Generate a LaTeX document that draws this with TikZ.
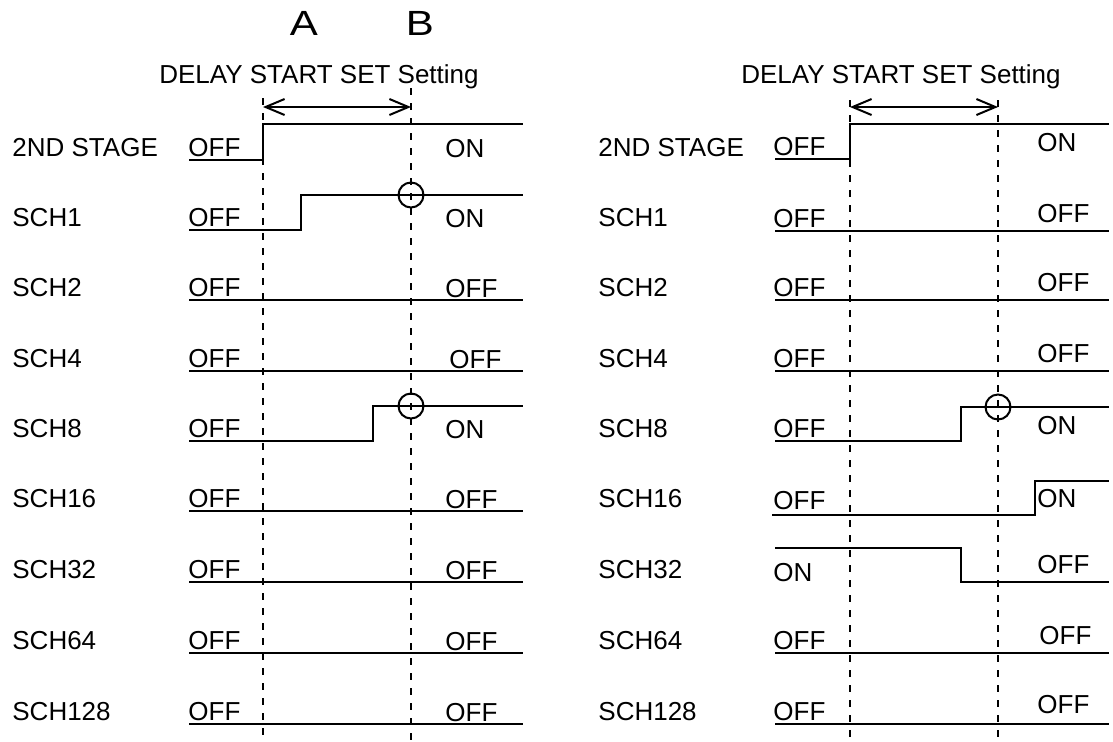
\documentclass[tikz,border=0pt]{standalone}
\usepackage{fontspec}
\setmainfont{Liberation Sans}
\usetikzlibrary{arrows.meta}
\tikzset{
  sig/.style={line width=1.2pt, line join=miter},
  guide/.style={line width=1.2pt, dash pattern=on 3.5pt off 4pt},
  setarrow/.style={{Straight Barb[length=9.5pt,width=8pt]}-{Straight Barb[length=9.5pt,width=8pt]}, line width=1pt},
  lab/.style={anchor=base west, inner sep=0pt, font=\fontsize{13pt}{15pt}\selectfont},
  ttl/.style={anchor=base, inner sep=0pt, font=\fontsize{13pt}{15pt}\selectfont},
  pt/.style={anchor=base, inner sep=0pt, font=\fontsize{17.5pt}{20pt}\selectfont},
  probe/.style={circle, draw, line width=1pt, minimum size=12.5pt, inner sep=0pt},
}

\begin{document}
\begin{tikzpicture}[x=0.5pt, y=-0.5pt]
    \useasboundingbox (0,0) rectangle (1113,741);
    % points A and B
    \node[pt, xscale=1.2] (ptA) at (304,35) {A};
    \node[pt, xscale=1.2] (ptB) at (420,35) {B};
    % left panel: guides and setting span
    \node[ttl] (ltitle) at (319,83) {DELAY START SET Setting};
    \coordinate (lAt) at (263,98);  \coordinate (lAb) at (263,741);
    \coordinate (lBt) at (411,88);  \coordinate (lBb) at (411,741);
    \coordinate (lAs) at (263,107); \coordinate (lBs) at (411,107);
    \draw[guide] (lAt) -- (lAb);
    \draw[guide] (lBt) -- (lBb);
    \draw[setarrow] (lAs) -- (lBs);
    % left panel: row names
    \node[lab] (l2nd) at (12,156.5) {2ND STAGE};
    \node[lab] (l1) at (12,226.5) {SCH1};
    \node[lab] (l2) at (12,296.5) {SCH2};
    \node[lab] (l4) at (12,367.5) {SCH4};
    \node[lab] (l8) at (12,437.5) {SCH8};
    \node[lab] (l16) at (12,507.5) {SCH16};
    \node[lab] (l32) at (12,578.5) {SCH32};
    \node[lab] (l64) at (12,649.5) {SCH64};
    \node[lab] (l128) at (12,720.5) {SCH128};
    % left panel: signals
    \draw[sig] (189,160) -- (263,160) -- (263,124) -- (523,124);
    \draw[sig] (189,230) -- (301,230) -- (301,195) -- (523,195);
    \draw[sig] (189,300) -- (523,300);
    \draw[sig] (189,371) -- (523,371);
    \draw[sig] (189,441) -- (373,441) -- (373,406) -- (523,406);
    \draw[sig] (189,511) -- (523,511);
    \draw[sig] (189,582) -- (523,582);
    \draw[sig] (189,653) -- (523,653);
    \draw[sig] (189,724) -- (523,724);
    \node[probe] (lc1) at (411,195) {};
    \node[probe] (lc8) at (411,406) {};
    % left panel: states
    \node[lab] (l2ndA) at (188,156.5) {OFF};  \node[lab] (l2ndB) at (445,157) {ON};
    \node[lab] (l1A) at (188,226.5) {OFF};    \node[lab] (l1B) at (445,227) {ON};
    \node[lab] (l2A) at (188,296.5) {OFF};    \node[lab] (l2B) at (445,297) {OFF};
    \node[lab] (l4A) at (188,367.5) {OFF};    \node[lab] (l4B) at (449,368) {OFF};
    \node[lab] (l8A) at (188,437.5) {OFF};    \node[lab] (l8B) at (445,438) {ON};
    \node[lab] (l16A) at (188,507.5) {OFF};   \node[lab] (l16B) at (445,508) {OFF};
    \node[lab] (l32A) at (188,578.5) {OFF};   \node[lab] (l32B) at (445,579) {OFF};
    \node[lab] (l64A) at (188,649.5) {OFF};   \node[lab] (l64B) at (445,650) {OFF};
    \node[lab] (l128A) at (188,720.5) {OFF};  \node[lab] (l128B) at (445,721) {OFF};
    % right panel: guides and setting span
    \node[ttl] (rtitle) at (901,83) {DELAY START SET Setting};
    \coordinate (rAt) at (850,100);  \coordinate (rAb) at (850,741);
    \coordinate (rBt) at (998,100);  \coordinate (rBb) at (998,741);
    \coordinate (rAs) at (850,107);  \coordinate (rBs) at (998,107);
    \draw[guide] (rAt) -- (rAb);
    \draw[guide] (rBt) -- (rBb);
    \draw[setarrow] (rAs) -- (rBs);
    % right panel: row names
    \node[lab] (r2nd) at (598,156.5) {2ND STAGE};
    \node[lab] (r1) at (598,226.5) {SCH1};
    \node[lab] (r2) at (598,296.5) {SCH2};
    \node[lab] (r4) at (598,367.5) {SCH4};
    \node[lab] (r8) at (598,437.5) {SCH8};
    \node[lab] (r16) at (598,507.5) {SCH16};
    \node[lab] (r32) at (598,578.5) {SCH32};
    \node[lab] (r64) at (598,649.5) {SCH64};
    \node[lab] (r128) at (598,720.5) {SCH128};
    % right panel: signals
    \draw[sig] (775,159) -- (850,159) -- (850,124) -- (1109,124);
    \draw[sig] (775,231) -- (1109,231);
    \draw[sig] (775,300) -- (1109,300);
    \draw[sig] (775,371) -- (1109,371);
    \draw[sig] (775,441) -- (961,441) -- (961,407) -- (1109,407);
    \draw[sig] (772,515) -- (1035,515) -- (1035,481) -- (1109,481);
    \draw[sig] (775,548) -- (961,548) -- (961,582) -- (1109,582);
    \draw[sig] (775,653) -- (1109,653);
    \draw[sig] (775,724) -- (1109,724);
    \node[probe] (rc8) at (998,407) {};
    % right panel: states
    \node[lab] (r2ndA) at (773,155.5) {OFF};  \node[lab] (r2ndB) at (1037,151) {ON};
    \node[lab] (r1A) at (773,227.5) {OFF};    \node[lab] (r1B) at (1037,222) {OFF};
    \node[lab] (r2A) at (773,296.5) {OFF};    \node[lab] (r2B) at (1037,291) {OFF};
    \node[lab] (r4A) at (773,367.5) {OFF};    \node[lab] (r4B) at (1037,362) {OFF};
    \node[lab] (r8A) at (773,437.5) {OFF};    \node[lab] (r8B) at (1037,434) {ON};
    \node[lab] (r16A) at (773,509.5) {OFF};   \node[lab] (r16B) at (1037,507) {ON};
    \node[lab] (r32A) at (773,581) {ON};      \node[lab] (r32B) at (1037,573) {OFF};
    \node[lab] (r64A) at (773,649.5) {OFF};   \node[lab] (r64B) at (1039,644) {OFF};
    \node[lab] (r128A) at (773,720.5) {OFF};  \node[lab] (r128B) at (1037,713) {OFF};
\end{tikzpicture}
\end{document}
